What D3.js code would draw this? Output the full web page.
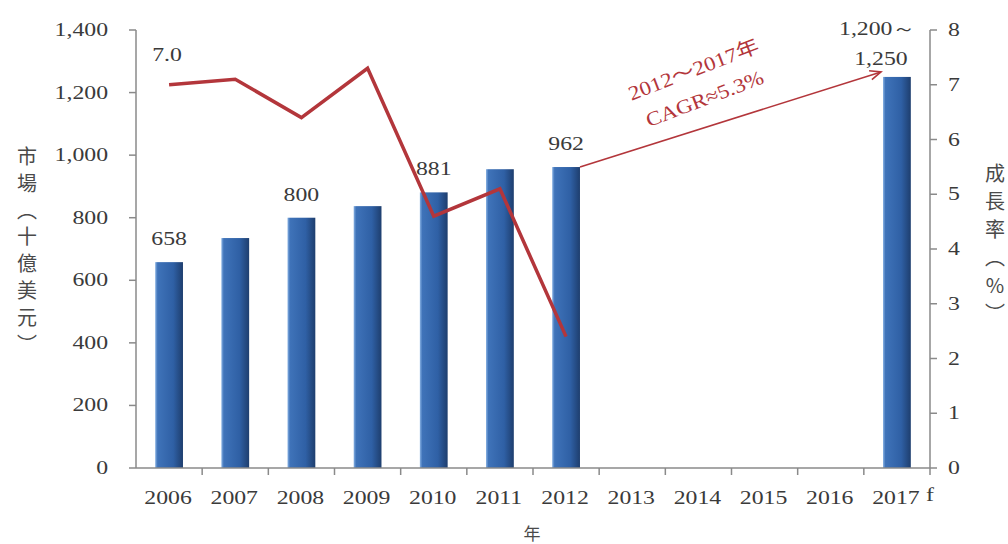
<!DOCTYPE html>
<html>
<head>
<meta charset="utf-8">
<script src="https://cdn.jsdelivr.net/npm/d3@7"></script>
<style>
  html, body { margin: 0; padding: 0; background: #fff; }
  svg { display: block; }
  .num { font-family: "Liberation Serif", "DejaVu Serif", serif; fill: #3a3a3a; }
  .cjk { font-family: "Noto Sans CJK TC", "Noto Sans CJK JP", sans-serif; fill: #4a4a4a; }
</style>
</head>
<body>
<script>
var years = ['2006', '2007', '2008', '2009', '2010', '2011', '2012', '2013', '2014', '2015', '2016', '2017'];
var market = [658, 735, 800, 837, 881, 955, 962, null, null, null, null, 1250];
var growth = [7.0, 7.1, 6.4, 7.3, 4.6, 5.1, 2.4];
var labelYears = ['2006', '2008', '2010', '2012'];
var leftTicks = [0, 200, 400, 600, 800, 1000, 1200, 1400];
var rightTicks = [0, 1, 2, 3, 4, 5, 6, 7, 8];
var leftTitle = ['市', '場', '︵', '十', '億', '美', '元', '︶'];
var rightTitle = ['成', '長', '率', '︵', '%', '︶'];

var W = 1008, H = 544;
var plotL = 136, plotR = 930, plotT = 30, plotB = 468;
var red = '#b3363b';
var sx = 1.25; // the serif text in the source is drawn wide

var svg = d3.select('body').append('svg')
    .attr('width', W)
    .attr('height', H);

var grad = svg.append('defs').append('linearGradient')
    .attr('id', 'barGrad')
    .attr('x1', 0).attr('x2', 1).attr('y1', 0).attr('y2', 0);
grad.append('stop').attr('offset', '0%').attr('stop-color', '#86b0e2');
grad.append('stop').attr('offset', '9%').attr('stop-color', '#3f73b9');
grad.append('stop').attr('offset', '65%').attr('stop-color', '#2f60a5');
grad.append('stop').attr('offset', '100%').attr('stop-color', '#1e3e6e');

var x = d3.scaleBand().domain(years).range([plotL, plotR]).paddingInner(0.58).paddingOuter(0.29);
var xb = d3.scaleBand().domain(years).range([plotL, plotR]);
var y = d3.scaleLinear().domain([0, 1400]).range([plotB, plotT]);
var y2 = d3.scaleLinear().domain([0, 8]).range([plotB, plotT]);

function wideText(g, px, py, str, anchor, size) {
  return g.append('text')
      .attr('class', 'num')
      .attr('transform', 'translate(' + px + ',' + py + ') scale(' + sx + ',1)')
      .attr('text-anchor', anchor)
      .attr('font-size', size)
      .text(str);
}

// bars
var barData = years.map(function(d, i) { return { year: d, v: market[i] }; })
    .filter(function(d) { return d.v != null; });

svg.selectAll('rect.bar')
    .data(barData)
    .enter()
    .append('rect')
    .attr('class', 'bar')
    .attr('x', function(d) { return x(d.year); })
    .attr('y', function(d) { return y(d.v); })
    .attr('width', x.bandwidth())
    .attr('height', function(d) { return plotB - y(d.v); })
    .attr('fill', 'url(#barGrad)');

// axes
var axisColor = '#8a8a8a';
var ax = svg.append('g').attr('stroke', axisColor).attr('stroke-width', 1.5);
ax.append('line').attr('x1', plotL).attr('x2', plotL).attr('y1', plotT).attr('y2', plotB);
ax.append('line').attr('x1', plotR).attr('x2', plotR).attr('y1', plotT).attr('y2', plotB);
ax.append('line').attr('x1', plotL).attr('x2', plotR).attr('y1', plotB).attr('y2', plotB);

ax.selectAll('line.lt').data(leftTicks).enter().append('line')
    .attr('x1', plotL - 7).attr('x2', plotL)
    .attr('y1', function(d) { return y(d); }).attr('y2', function(d) { return y(d); });
ax.selectAll('line.rt').data(rightTicks).enter().append('line')
    .attr('x1', plotR).attr('x2', plotR + 7)
    .attr('y1', function(d) { return y2(d); }).attr('y2', function(d) { return y2(d); });
ax.selectAll('line.bt').data(years.slice(1).concat(['end'])).enter().append('line')
    .attr('x1', function(d) { return d === 'end' ? plotR : xb(d); })
    .attr('x2', function(d) { return d === 'end' ? plotR : xb(d); })
    .attr('y1', plotB).attr('y2', plotB + 7);

var labels = svg.append('g');
leftTicks.forEach(function(t) {
  wideText(labels, plotL - 28, y(t) + 6, d3.format(',')(t), 'end', 19);
});
rightTicks.forEach(function(t) {
  wideText(labels, plotR + 18, y2(t) + 6, String(t), 'start', 19);
});
years.forEach(function(yr) {
  wideText(labels, xb(yr) + xb.bandwidth() / 2 - 1, plotB + 36, yr, 'middle', 19);
});
wideText(labels, plotR - 4, plotB + 33, 'f', 'start', 19);

// growth line
var line = d3.line()
    .x(function(d, i) { return xb(years[i]) + xb.bandwidth() / 2; })
    .y(function(d) { return y2(d); });

svg.append('path')
    .datum(growth)
    .attr('d', line)
    .attr('fill', 'none')
    .attr('stroke', red)
    .attr('stroke-width', 3.5)
    .attr('stroke-linejoin', 'miter');

// value labels
labelYears.forEach(function(yr) {
  var i = years.indexOf(yr);
  wideText(labels, x(yr) + x.bandwidth() / 2, y(market[i]) - 17, String(market[i]), 'middle', 19);
});
wideText(labels, xb(years[0]) + xb.bandwidth() / 2 - 2, y2(growth[0]) - 24, growth[0].toFixed(1), 'middle', 19);

var i17 = years.indexOf('2017');
wideText(labels, x('2017') + x.bandwidth() / 2 - 19, y(market[i17]) - 42, '1,200～', 'middle', 19);
wideText(labels, x('2017') + x.bandwidth() / 2 - 16, y(market[i17]) - 12, d3.format(',')(market[i17]), 'middle', 19);

// CAGR arrow
var x0 = x('2012') + x.bandwidth(), yA = y(market[6]);
var x1 = x('2017') - 2, yB = y(market[i17]) - 5;
svg.append('line')
    .attr('x1', x0).attr('y1', yA).attr('x2', x1).attr('y2', yB)
    .attr('stroke', red).attr('stroke-width', 1.6);
var ang = Math.atan2(yB - yA, x1 - x0);
var ah = 12;
svg.append('path')
    .attr('d', 'M' + (x1 - ah * Math.cos(ang - 0.4)) + ',' + (yB - ah * Math.sin(ang - 0.4)) +
        'L' + x1 + ',' + yB +
        'L' + (x1 - ah * Math.cos(ang + 0.4)) + ',' + (yB - ah * Math.sin(ang + 0.4)))
    .attr('fill', 'none').attr('stroke', red).attr('stroke-width', 1.6);

var note = svg.append('g').attr('fill', red)
    .attr('font-family', '"Liberation Serif", "Noto Sans CJK TC", serif')
    .attr('font-size', 20);
note.append('text')
    .attr('transform', 'translate(696,76) rotate(-21) scale(1.15,1)')
    .attr('text-anchor', 'middle')
    .text('2012～2017年');
note.append('text')
    .attr('transform', 'translate(707,105) rotate(-21) scale(1.15,1)')
    .attr('text-anchor', 'middle')
    .text('CAGR≈5.3%');

// axis titles
svg.selectAll('text.lt')
    .data(leftTitle)
    .enter()
    .append('text')
    .attr('class', 'cjk')
    .attr('x', 27)
    .attr('y', function(d, i) { return 164 + i * 26.8; })
    .attr('text-anchor', 'middle')
    .attr('font-size', 20)
    .text(function(d) { return d; });

svg.selectAll('text.rt')
    .data(rightTitle)
    .enter()
    .append('text')
    .attr('class', 'cjk')
    .attr('x', 995)
    .attr('y', function(d, i) { return 181 + i * 28; })
    .attr('text-anchor', 'middle')
    .attr('font-size', 20)
    .text(function(d) { return d; });

svg.append('text')
    .attr('class', 'cjk')
    .attr('x', 532)
    .attr('y', 540)
    .attr('text-anchor', 'middle')
    .attr('font-size', 17)
    .text('年');
</script>
</body>
</html>
